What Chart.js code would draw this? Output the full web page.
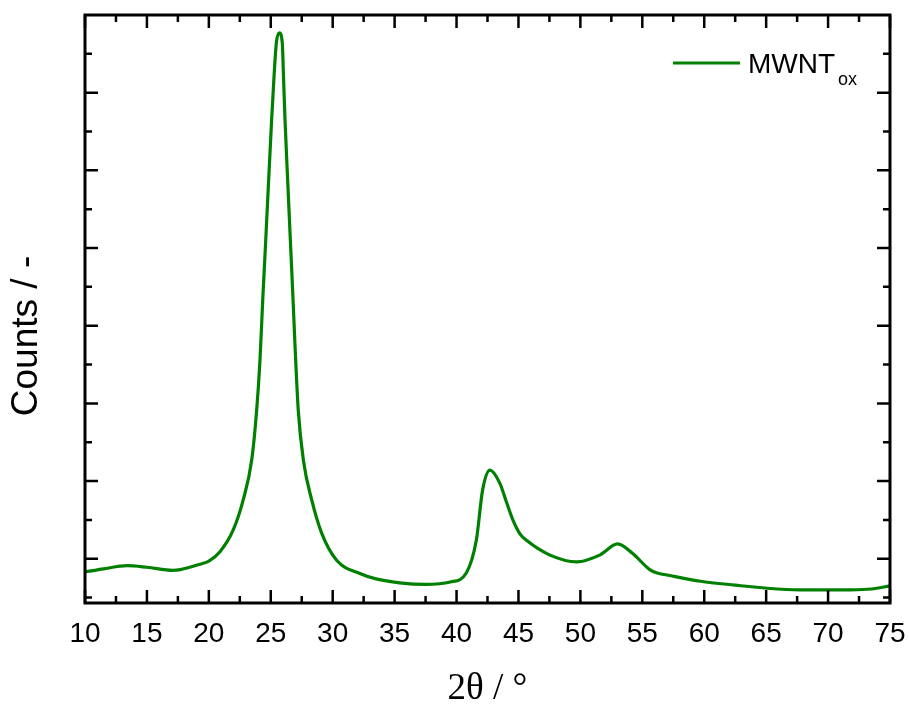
<!DOCTYPE html>
<html>
<head>
<meta charset="utf-8">
<script src="https://cdn.jsdelivr.net/npm/chart.js@4.4.0/dist/chart.umd.min.js"></script>
<style>
  body { margin: 0; background: #fff; }
  #wrap { width: 909px; height: 704px; position: relative; }
</style>
</head>
<body>
<div id="wrap"><canvas id="chart"></canvas></div>
<script>
// XRD pattern (2theta in degrees, counts in arbitrary units)
var twoTheta = [10, 11.5, 13.4, 15, 17.1, 17.7, 19.29, 20.0, 20.9, 21.97, 22.78, 23.46, 23.86, 24.13, 24.35, 24.54, 24.8, 25.07, 25.26, 25.45, 25.69, 25.93, 26.03, 26.15, 26.39, 26.63, 26.8, 26.97, 27.22, 27.63, 28.3, 29.11, 30.32, 32.2, 33.5, 35.4, 37.5, 39.5, 40.8, 41.6, 42.1, 42.7, 43.5, 44.05, 44.6, 45.12, 45.7, 47.5, 49.7, 51.6, 53.0, 54.2, 55.6, 56.2, 57.0, 59.7, 62.5, 65.1, 67.7, 71.8, 73.5, 75];
var counts = [0.83, 0.87, 0.91, 0.89, 0.85, 0.86, 0.93, 0.97, 1.09, 1.37, 1.76, 2.27, 2.91, 3.56, 4.33, 4.93, 5.78, 6.65, 7.2, 7.64, 7.77, 7.64, 7.2, 6.65, 5.78, 4.93, 4.33, 3.7, 2.91, 2.27, 1.76, 1.33, 0.98, 0.81, 0.74, 0.69, 0.67, 0.70, 0.82, 1.24, 1.88, 2.14, 1.97, 1.72, 1.48, 1.32, 1.23, 1.05, 0.96, 1.05, 1.19, 1.07, 0.86, 0.815, 0.79, 0.71, 0.66, 0.62, 0.60, 0.60, 0.61, 0.65];
var xTicks = [10, 15, 20, 25, 30, 35, 40, 45, 50, 55, 60, 65, 70, 75];
var yTicks = [1, 2, 3, 4, 5, 6, 7];
var xTitle = '2θ / °';
var yTitle = 'Counts / -';
var seriesName = ['MWNT', 'ox'];

var green = '#008000';

var points = twoTheta.map(function (x, i) { return { x: x, y: counts[i] }; });

// frame with inward ticks on all four sides, axis titles, legend
var framePlugin = {
  id: 'frame',
  afterDraw: function (chart) {
    var ctx = chart.ctx;
    var a = chart.chartArea;
    var xs = chart.scales.x, ys = chart.scales.y;
    ctx.save();
    ctx.strokeStyle = '#000';
    ctx.lineWidth = 3;
    ctx.strokeRect(a.left, a.top, a.right - a.left, a.bottom - a.top);
    ctx.lineWidth = 2.5;
    ctx.beginPath();
    xTicks.forEach(function (t, i) {
      var px = xs.getPixelForValue(t);
      ctx.moveTo(px, a.bottom); ctx.lineTo(px, a.bottom - 13);
      ctx.moveTo(px, a.top); ctx.lineTo(px, a.top + 13);
      if (i < xTicks.length - 1) {
        var m = xs.getPixelForValue((t + xTicks[i + 1]) / 2);
        ctx.moveTo(m, a.bottom); ctx.lineTo(m, a.bottom - 7);
        ctx.moveTo(m, a.top); ctx.lineTo(m, a.top + 7);
      }
    });
    var yAll = [];
    yTicks.forEach(function (t) { yAll.push([t, 13]); });
    yAll.push([yTicks[0] - 0.5, 7]);
    yTicks.forEach(function (t) { yAll.push([t + 0.5, 7]); });
    yAll.forEach(function (p) {
      if (p[0] <= ys.min || p[0] >= ys.max) return;
      var py = ys.getPixelForValue(p[0]);
      ctx.moveTo(a.left, py); ctx.lineTo(a.left + p[1], py);
      ctx.moveTo(a.right, py); ctx.lineTo(a.right - p[1], py);
    });
    ctx.stroke();

    // axis titles
    ctx.fillStyle = '#000';
    ctx.textAlign = 'center';
    ctx.textBaseline = 'middle';
    ctx.font = '37px "Liberation Serif", "Times New Roman", serif';
    ctx.fillText(xTitle, (a.left + a.right) / 2, 689);
    ctx.save();
    ctx.translate(27, 336);
    ctx.rotate(-Math.PI / 2);
    ctx.font = '37px "Liberation Sans", Arial, sans-serif';
    ctx.fillText(yTitle, 0, 0);
    ctx.restore();

    // legend
    var lx = a.right - 217, ly = a.top + 48;
    ctx.strokeStyle = green;
    ctx.lineWidth = 3;
    ctx.beginPath();
    ctx.moveTo(lx, ly); ctx.lineTo(lx + 67, ly);
    ctx.stroke();
    ctx.textAlign = 'left';
    ctx.textBaseline = 'alphabetic';
    ctx.font = '28px "Liberation Sans", Arial, sans-serif';
    ctx.fillText(seriesName[0], lx + 75, ly + 10);
    var w = ctx.measureText(seriesName[0]).width;
    ctx.font = '18px "Liberation Sans", Arial, sans-serif';
    ctx.fillText(seriesName[1], lx + 75 + w + 3, ly + 22);
    ctx.restore();
  }
};

new Chart(document.getElementById('chart'), {
  type: 'line',
  data: {
    datasets: [{
      label: 'MWNTox',
      data: points,
      borderColor: green,
      backgroundColor: green,
      borderWidth: 3.2,
      pointRadius: 0,
      cubicInterpolationMode: 'monotone',
      fill: false
    }]
  },
  options: {
    responsive: true,
    maintainAspectRatio: false,
    animation: false,
    layout: { padding: { top: 15, right: 19, left: 0, bottom: 0 } },
    plugins: { legend: { display: false }, tooltip: { enabled: false } },
    scales: {
      x: {
        type: 'linear',
        min: 10,
        max: 75,
        afterFit: function (s) { s.height = 101; s.paddingLeft = 0; s.paddingRight = 0; },
        grid: { display: false, drawTicks: false },
        border: { display: false },
        ticks: {
          stepSize: 5,
          padding: 14,
          color: '#000',
          font: { family: '"Liberation Sans", Arial, sans-serif', size: 28 }
        }
      },
      y: {
        min: 0.43,
        max: 8,
        afterFit: function (s) { s.width = 85; s.paddingTop = 0; s.paddingBottom = 0; },
        grid: { display: false, drawTicks: false },
        border: { display: false },
        ticks: { display: false, stepSize: 1 }
      }
    }
  },
  plugins: [framePlugin]
});
</script>
</body>
</html>
